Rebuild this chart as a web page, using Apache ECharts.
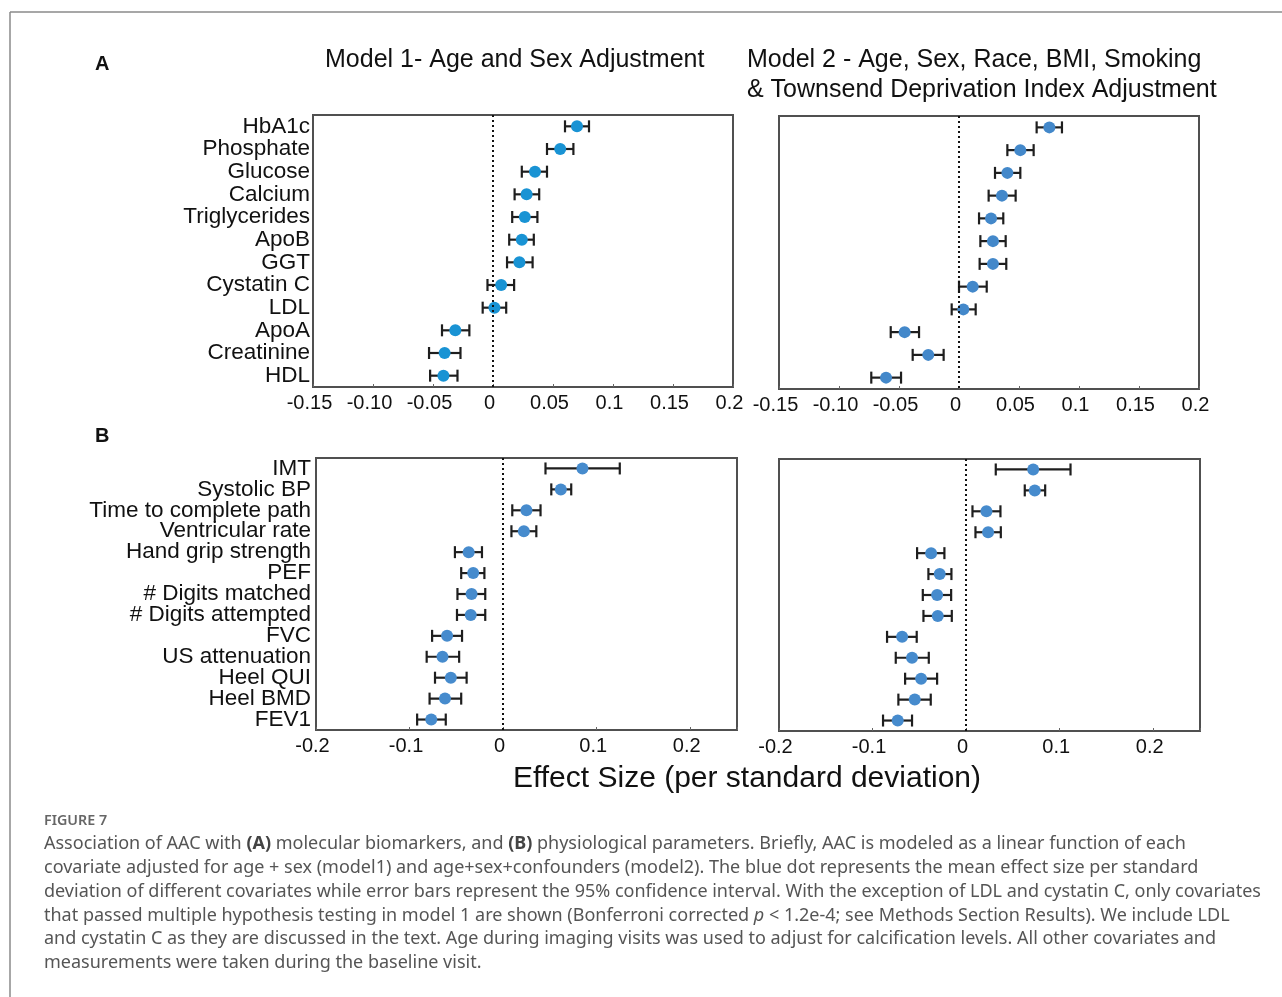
<!DOCTYPE html>
<html>
<head>
<meta charset="utf-8">
<title>Figure 7 – AAC associations</title>
<script src="https://cdn.jsdelivr.net/npm/echarts@6/dist/echarts.min.js"></script>
<style>
  html, body { margin: 0; padding: 0; background: #fff; }
  #chart { width: 1282px; height: 997px; }
</style>
</head>
<body>
<div id="chart"></div>
<script>
// ---- Panel A: molecular biomarkers ----
const biomarkers = ['HbA1c', 'Phosphate', 'Glucose', 'Calcium', 'Triglycerides', 'ApoB',
  'GGT', 'Cystatin C', 'LDL', 'ApoA', 'Creatinine', 'HDL'];

const biomarkersM1Mean = [0.070, 0.056, 0.035, 0.028, 0.0265, 0.024, 0.022, 0.0068, 0.0012, -0.0314, -0.0403, -0.0413];
const biomarkersM1Low  = [0.060, 0.045, 0.024, 0.018, 0.016, 0.0135, 0.0117, -0.0046, -0.0086, -0.0425, -0.0533, -0.0524];
const biomarkersM1High = [0.080, 0.067, 0.045, 0.0385, 0.037, 0.034, 0.033, 0.0176, 0.011, -0.0197, -0.0271, -0.0296];

const biomarkersM2Mean = [0.0753, 0.0511, 0.0403, 0.0358, 0.0267, 0.0283, 0.0283, 0.0114, 0.0036, -0.0453, -0.0256, -0.0608];
const biomarkersM2Low  = [0.0647, 0.0403, 0.030, 0.0247, 0.0167, 0.0178, 0.0172, 0.0, -0.0061, -0.0569, -0.0386, -0.0731];
const biomarkersM2High = [0.0858, 0.0622, 0.0511, 0.0472, 0.0369, 0.0389, 0.0394, 0.0231, 0.0139, -0.0333, -0.0128, -0.0483];

// ---- Panel B: physiological parameters ----
const physiology = ['IMT', 'Systolic BP', 'Time to complete path', 'Ventricular rate',
  'Hand grip strength', 'PEF', '# Digits matched', '# Digits attempted', 'FVC',
  'US attenuation', 'Heel QUI', 'Heel BMD', 'FEV1'];

const physiologyM1Mean = [0.0848, 0.0617, 0.0249, 0.0222, -0.0368, -0.032, -0.0337, -0.0346, -0.0599, -0.0648, -0.0559, -0.0621, -0.0768];
const physiologyM1Low  = [0.0453, 0.0515, 0.0098, 0.0089, -0.0515, -0.0448, -0.0488, -0.0493, -0.0759, -0.0817, -0.0728, -0.0786, -0.0919];
const physiologyM1High = [0.1247, 0.0728, 0.040, 0.0355, -0.0226, -0.020, -0.0191, -0.0191, -0.0439, -0.047, -0.039, -0.0448, -0.0613];

const physiologyM2Mean = [0.0717, 0.0734, 0.0217, 0.0235, -0.0374, -0.0282, -0.031, -0.0303, -0.0684, -0.0578, -0.0481, -0.0549, -0.0731];
const physiologyM2Low  = [0.0317, 0.0627, 0.0068, 0.010, -0.0524, -0.0403, -0.0463, -0.0456, -0.0845, -0.0752, -0.0652, -0.0724, -0.0888];
const physiologyM2High = [0.1116, 0.0845, 0.0367, 0.0371, -0.0232, -0.0157, -0.016, -0.0153, -0.0528, -0.0399, -0.031, -0.0378, -0.0578];

// ---- Axis tick labels ----
const ticksA = [-0.15, -0.10, -0.05, 0, 0.05, 0.1, 0.15, 0.2];
const tickTextA = ['-0.15', '-0.10', '-0.05', '0', '0.05', '0.1', '0.15', '0.2'];
const ticksB = [-0.2, -0.1, 0, 0.1, 0.2];
const tickTextB = ['-0.2', '-0.1', '0', '0.1', '0.2'];

// ---- Text ----
const titleModel1 = 'Model 1- Age and Sex Adjustment';
const titleModel2 = ['Model 2 - Age, Sex, Race, BMI, Smoking', '& Townsend Deprivation Index Adjustment'];
const xAxisTitle = 'Effect Size (per standard deviation)';
const figureLabel = 'FIGURE 7';
const captionLines = [
  'Association of AAC with {b|(A)} molecular biomarkers, and {b|(B)} physiological parameters. Briefly, AAC is modeled as a linear function of each',
  'covariate adjusted for age + sex (model1) and age+sex+confounders (model2). The blue dot represents the mean effect size per standard',
  'deviation of different covariates while error bars represent the 95% confidence interval. With the exception of LDL and cystatin C, only covariates',
  'that passed multiple hypothesis testing in model 1 are shown (Bonferroni corrected {i|p} < 1.2e-4; see Methods Section Results). We include LDL',
  'and cystatin C as they are discussed in the text. Age during imaging visits was used to adjust for calcification levels. All other covariates and',
  'measurements were taken during the baseline visit.'
];

const PLOT_FONT = '"Liberation Sans", Arial, sans-serif';
const CAPTION_FONT = '"Noto Sans", "Open Sans", sans-serif';
const CAPTION_SIZE = 18;

const grids = [
  { left: 313, top: 115, width: 420, height: 272 },
  { left: 779, top: 116, width: 420, height: 273 },
  { left: 316, top: 458, width: 421, height: 272 },
  { left: 779, top: 459, width: 421, height: 272 }
];

function tickFormatter(ticks, texts) {
  return function (v) {
    const i = ticks.findIndex(t => Math.abs(t - v) < 1e-6);
    return i >= 0 ? texts[i] : '';
  };
}

function makeXAxis(gridIndex, min, max, interval, ticks, texts) {
  return {
    type: 'value', gridIndex, min, max, interval,
    axisLine: { show: false },
    splitLine: { show: false },
    axisTick: { show: true, inside: true, length: 3, lineStyle: { color: '#666', width: 1 } },
    axisLabel: {
      show: true, margin: 6, color: '#111', fontSize: 20, fontFamily: PLOT_FONT,
      padding: [0, 7, 0, 0],
      showMinLabel: true, showMaxLabel: true,
      formatter: tickFormatter(ticks, texts)
    }
  };
}

function makeYAxis(gridIndex, cats, showLabels, margin) {
  return {
    type: 'category', gridIndex, data: cats, inverse: true, boundaryGap: true,
    axisLine: { show: false },
    axisTick: { show: false },
    splitLine: { show: false },
    axisLabel: {
      show: showLabels, margin, color: '#111', fontSize: 22.5, fontFamily: PLOT_FONT, interval: 0
    }
  };
}

function errorBarItem(params, api) {
  const y = api.value(2);
  const a = api.coord([api.value(0), y]);
  const b = api.coord([api.value(1), y]);
  const cap = 6;
  const style = { stroke: '#1e1e1e', lineWidth: 2.2 };
  return {
    type: 'group',
    children: [
      { type: 'line', shape: { x1: a[0], y1: a[1], x2: b[0], y2: b[1] }, style },
      { type: 'line', shape: { x1: a[0], y1: a[1] - cap, x2: a[0], y2: a[1] + cap }, style },
      { type: 'line', shape: { x1: b[0], y1: b[1] - cap, x2: b[0], y2: b[1] + cap }, style }
    ]
  };
}

function panelSeries(axisIndex, mean, low, high, color) {
  return [
    {
      type: 'custom', xAxisIndex: axisIndex, yAxisIndex: axisIndex,
      renderItem: errorBarItem,
      encode: { x: [0, 1], y: 2 },
      data: low.map((l, i) => [l, high[i], i]),
      z: 2, silent: true
    },
    {
      type: 'scatter', xAxisIndex: axisIndex, yAxisIndex: axisIndex,
      symbol: 'circle', symbolSize: 12,
      itemStyle: { color, opacity: 1 },
      data: mean.map((m, i) => [m, i]),
      z: 3, silent: true,
      markLine: {
        silent: true, symbol: 'none', label: { show: false },
        lineStyle: { type: [2, 3], color: '#111', width: 2 },
        data: [{ xAxis: 0 }]
      }
    }
  ];
}

function text(x, y, str, font, extra) {
  return {
    type: 'text', x, y, silent: true,
    style: Object.assign({ text: str, font, fill: '#111', verticalAlign: 'middle', align: 'left' }, extra || {})
  };
}

const graphics = [
  // figure frame
  { type: 'line', silent: true, shape: { x1: 10, y1: 12, x2: 1282, y2: 12 }, style: { stroke: '#8a8a8a', lineWidth: 1.5 } },
  { type: 'line', silent: true, shape: { x1: 10, y1: 12, x2: 10, y2: 997 }, style: { stroke: '#8a8a8a', lineWidth: 1.5 } },
  // panel letters
  text(95, 64, 'A', 'bold 20px ' + PLOT_FONT),
  text(95, 436, 'B', 'bold 20px ' + PLOT_FONT),
  // model titles
  text(325, 60, titleModel1, '25px ' + PLOT_FONT),
  text(747, 60, titleModel2[0], '25px ' + PLOT_FONT),
  text(747, 90, titleModel2[1], '25px ' + PLOT_FONT),
  // shared x axis title
  text(747, 779, xAxisTitle, '30px ' + PLOT_FONT, { align: 'center' }),
  // caption
  text(44, 821, figureLabel, '600 14.3px ' + CAPTION_FONT, { fill: '#666' })
];

captionLines.forEach((line, i) => {
  graphics.push({
    type: 'text', x: 44, y: 844 + i * 23.8, silent: true,
    style: {
      text: line, fill: '#555', verticalAlign: 'middle', align: 'left',
      fontFamily: CAPTION_FONT, fontSize: CAPTION_SIZE,
      rich: {
        b: { fontFamily: CAPTION_FONT, fontSize: CAPTION_SIZE, fontWeight: 'bold', fill: '#444' },
        i: { fontFamily: CAPTION_FONT, fontSize: CAPTION_SIZE, fontStyle: 'italic', fill: '#555' }
      }
    }
  });
});

const chart = echarts.init(document.getElementById('chart'), null, { renderer: 'canvas' });

chart.setOption({
  animation: false,
  backgroundColor: '#fff',
  grid: grids.map(g => Object.assign({
    show: true, borderColor: '#505050', borderWidth: 2, backgroundColor: 'transparent',
    containLabel: false, outerBoundsMode: 'none'
  }, g)),
  xAxis: [
    makeXAxis(0, -0.15, 0.2, 0.05, ticksA, tickTextA),
    makeXAxis(1, -0.15, 0.2, 0.05, ticksA, tickTextA),
    makeXAxis(2, -0.2, 0.25, 0.1, ticksB, tickTextB),
    makeXAxis(3, -0.2, 0.25, 0.1, ticksB, tickTextB)
  ],
  yAxis: [
    makeYAxis(0, biomarkers, true, 3),
    makeYAxis(1, biomarkers, false, 3),
    makeYAxis(2, physiology, true, 5),
    makeYAxis(3, physiology, false, 5)
  ],
  series: [
    ...panelSeries(0, biomarkersM1Mean, biomarkersM1Low, biomarkersM1High, '#1993d4'),
    ...panelSeries(1, biomarkersM2Mean, biomarkersM2Low, biomarkersM2High, '#4388ca'),
    ...panelSeries(2, physiologyM1Mean, physiologyM1Low, physiologyM1High, '#468bcd'),
    ...panelSeries(3, physiologyM2Mean, physiologyM2Low, physiologyM2High, '#468bcd')
  ],
  graphic: graphics
});
</script>
</body>
</html>
